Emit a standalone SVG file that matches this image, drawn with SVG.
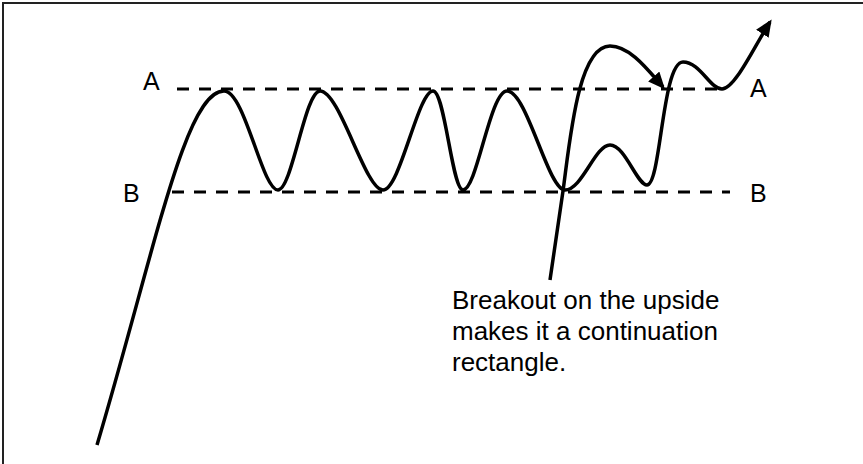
<svg xmlns="http://www.w3.org/2000/svg" width="863" height="464" viewBox="0 0 863 464">
  <style>
    .lbl { font-family: "Liberation Sans", Arial, sans-serif; font-size: 25px; fill: #000; }
    .note { font-family: "Liberation Sans", Arial, sans-serif; font-size: 26px; fill: #000; }
    .dash { stroke: #000; stroke-width: 3.2; stroke-dasharray: 12 10; fill: none; }
    .curve { stroke: #000; stroke-width: 3.5; fill: none; stroke-linejoin: round; }
  </style>
  <defs>
    <marker id="arrow" markerUnits="userSpaceOnUse" markerWidth="18" markerHeight="16" refX="14" refY="7.5" orient="auto">
      <path d="M0,0 L17,7.5 L0,15 z" fill="#000"/>
    </marker>
  </defs>
  <rect width="863" height="464" fill="#fff"/>
  <path d="M3,464 V3 H863" stroke="#222" stroke-width="2" fill="none"/>

  <g id="level-A">
    <line class="dash" x1="177" y1="89" x2="722" y2="89"/>
    <text class="lbl" x="143" y="90">A</text>
    <text class="lbl" x="750" y="97">A</text>
  </g>
  <g id="level-B">
    <line class="dash" x1="172" y1="192" x2="730" y2="192"/>
    <text class="lbl" x="123" y="202">B</text>
    <text class="lbl" x="750" y="202">B</text>
  </g>

  <g id="connectors">
    <path id="price" class="curve" marker-end="url(#arrow)" d="M97,445 C155,250 185,91 224,91 C245,91 262,190 278,190 C292,190 305,91 320,91 C340,91 365,190 383,190 C400,190 418,91 433,91 C445,91 452,190 463,190 C477,190 490,91 507,91 C527,91 548,190 565,190 C582,190 595,145 610,145 C625,145 637,185 647,185 C661,185 662,62 683,62 C700,62 710,89 722,89 C735,89 755,45 770,22"/>
    <path id="breakout" class="curve" marker-end="url(#arrow)" d="M550,280 L563,191 C570,140 578,46 610,46 C630,46 648,70 663,87"/>
  </g>

  <g id="note">
    <text class="note" x="452" y="309">Breakout on the upside</text>
    <text class="note" x="452" y="340">makes it a continuation</text>
    <text class="note" x="452" y="371">rectangle.</text>
  </g>
</svg>
